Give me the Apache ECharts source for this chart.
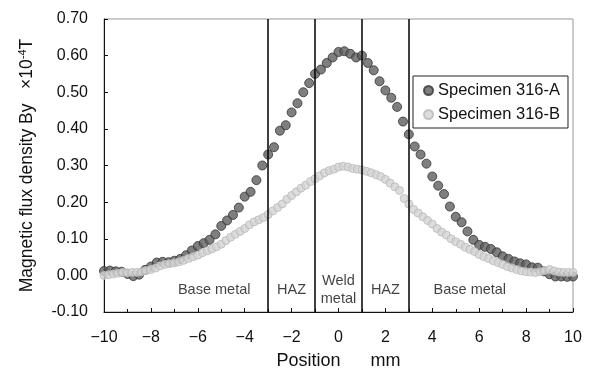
<!DOCTYPE html>
<html><head><meta charset="utf-8">
<script src="https://cdn.jsdelivr.net/npm/echarts@6/dist/echarts.min.js"></script>
<style>html,body{margin:0;padding:0;background:#fff}#c{width:590px;height:374px}</style>
</head><body><div id="c"></div>
<script>
var posA = [-10,-9.75,-9.5,-9.25,-9,-8.75,-8.5,-8.25,-8,-7.75,-7.5,-7.25,-7,-6.75,-6.5,-6.25,-6,-5.75,-5.5,-5.25,-5,-4.75,-4.5,-4.25,-4,-3.75,-3.5,-3.25,-3,-2.75,-2.5,-2.25,-2,-1.75,-1.5,-1.25,-1,-0.75,-0.5,-0.25,0,0.25,0.5,0.75,1,1.25,1.5,1.75,2,2.25,2.5,2.75,3,3.25,3.5,3.75,4,4.25,4.5,4.75,5,5.25,5.5,5.75,6,6.25,6.5,6.75,7,7.25,7.5,7.75,8,8.25,8.5,8.75,9,9.25,9.5,9.75,10];
var valA = [0.012,0.013,0.011,0.010,0.004,-0.002,0.002,0.015,0.024,0.035,0.037,0.036,0.040,0.045,0.055,0.068,0.080,0.088,0.097,0.112,0.135,0.150,0.165,0.185,0.215,0.228,0.260,0.300,0.330,0.350,0.395,0.410,0.445,0.470,0.500,0.525,0.550,0.562,0.580,0.595,0.610,0.612,0.605,0.595,0.600,0.580,0.560,0.530,0.505,0.485,0.460,0.420,0.385,0.352,0.330,0.305,0.270,0.245,0.222,0.188,0.160,0.145,0.120,0.097,0.083,0.078,0.072,0.063,0.052,0.045,0.038,0.033,0.030,0.022,0.021,0.011,0.003,-0.003,-0.003,-0.004,-0.003];
var posB = [-10,-9.8,-9.6,-9.4,-9.2,-9,-8.8,-8.6,-8.4,-8.2,-8,-7.8,-7.6,-7.4,-7.2,-7,-6.8,-6.6,-6.4,-6.2,-6,-5.8,-5.6,-5.4,-5.2,-5,-4.8,-4.6,-4.4,-4.2,-4,-3.8,-3.6,-3.4,-3.2,-3,-2.8,-2.6,-2.4,-2.2,-2,-1.8,-1.6,-1.4,-1.2,-1,-0.8,-0.6,-0.4,-0.2,0,0.2,0.4,0.6,0.8,1,1.2,1.4,1.6,1.8,2,2.2,2.4,2.6,2.8,3,3.2,3.4,3.6,3.8,4,4.2,4.4,4.6,4.8,5,5.2,5.4,5.6,5.8,6,6.2,6.4,6.6,6.8,7,7.2,7.4,7.6,7.8,8,8.2,8.4,8.6,8.8,9,9.2,9.4,9.6,9.8,10];
var valB = [0.000,0.002,0.004,0.006,0.008,0.007,0.008,0.008,0.010,0.013,0.016,0.020,0.026,0.030,0.032,0.034,0.037,0.041,0.046,0.051,0.055,0.062,0.067,0.072,0.078,0.085,0.095,0.104,0.112,0.120,0.128,0.138,0.146,0.152,0.158,0.166,0.176,0.185,0.195,0.208,0.218,0.228,0.238,0.246,0.256,0.264,0.272,0.280,0.286,0.290,0.296,0.298,0.296,0.292,0.290,0.288,0.284,0.280,0.275,0.270,0.262,0.252,0.242,0.232,0.210,0.195,0.180,0.170,0.160,0.150,0.140,0.128,0.118,0.110,0.100,0.092,0.085,0.077,0.071,0.065,0.057,0.051,0.046,0.040,0.035,0.030,0.024,0.020,0.016,0.012,0.010,0.009,0.008,0.010,0.013,0.016,0.012,0.009,0.008,0.008,0.008];
var boundaries = [-3,-1,1,3];
var regionNames = ['Base metal','HAZ','Weld\nmetal','HAZ','Base metal'];
var regionX = [-5.3,-2,0,2,5.6];
var regionY = [-0.04,-0.04,-0.04,-0.04,-0.04];
var seriesNames = ['Specimen 316-A','Specimen 316-B'];

var chart = echarts.init(document.getElementById('c'));
var font = 'Liberation Sans, Arial, sans-serif';
function zip(x,y){return x.map(function(v,i){return [v,y[i]];});}
chart.setOption({
  animation:false,
  textStyle:{fontFamily:font},
  grid:{left:104,top:19,right:17,bottom:62,show:true,borderColor:'#999',borderWidth:1,outerBoundsMode:'none',containLabel:false},
  legend:{
    data:seriesNames, orient:'vertical', left:413, top:76,
    borderColor:'#222', borderWidth:1, padding:[6,8,5,10], itemGap:7,
    itemWidth:9, itemHeight:9, icon:'circle',
    textStyle:{fontSize:16.5, color:'#111', fontFamily:font}
  },
  xAxis:{
    type:'value', min:-10, max:10, interval:2,
    name:'Position      mm', nameLocation:'middle', nameGap:40,
    nameTextStyle:{fontSize:18, color:'#111', fontFamily:font},
    axisLine:{onZero:false, lineStyle:{color:'#111', width:1}},
    axisTick:{inside:true, length:4, lineStyle:{color:'#111'}},
    minorTick:{show:true, splitNumber:2, length:3, lineStyle:{color:'#111'}},
    splitLine:{show:false},
    axisLabel:{fontSize:16, color:'#111', margin:18, formatter:function(v){return String(v).replace('-','\u2212');}}
  },
  yAxis:{
    type:'value', min:-0.1, max:0.7, interval:0.1,
    name:'Magnetic flux density By   \u00d710{sup|-4}T', nameLocation:'middle', nameGap:67,
    nameTextStyle:{fontSize:17.5, color:'#111', fontFamily:font, rich:{sup:{fontSize:11, verticalAlign:'top', padding:[0,0,9,0], fontFamily:font, color:'#111'}}},
    axisLine:{show:true, onZero:false, lineStyle:{color:'#111', width:1}},
    axisTick:{inside:true, length:4, lineStyle:{color:'#111'}},
    splitLine:{show:false},
    axisLabel:{fontSize:16, color:'#111', margin:16, formatter:function(v){return v.toFixed(2);}}
  },
  series:[
    {name:seriesNames[0], type:'scatter', data:zip(posA,valA), symbolSize:9,
     itemStyle:{color:'#5f5f5f', borderColor:'#333', borderWidth:1}, z:3},
    {name:seriesNames[1], type:'scatter', data:zip(posB,valB), symbolSize:8,
     itemStyle:{color:'#d4d4d4', borderColor:'#b8b8b8', borderWidth:1}, z:4},
    {type:'scatter', silent:true, symbolSize:0, z:5,
     data:regionX.map(function(x,i){return {value:[x,regionY[i]], name:regionNames[i]};}),
     label:{show:true, position:'inside', fontSize:14.5, color:'#111', lineHeight:18, fontFamily:font, formatter:function(p){return p.name;}},
     markLine:{silent:true, symbol:'none', label:{show:false},
       lineStyle:{color:'#000', width:1.5, type:'solid'},
       data:boundaries.map(function(b){return {xAxis:b};})}
    }
  ]
});
</script></body></html>
